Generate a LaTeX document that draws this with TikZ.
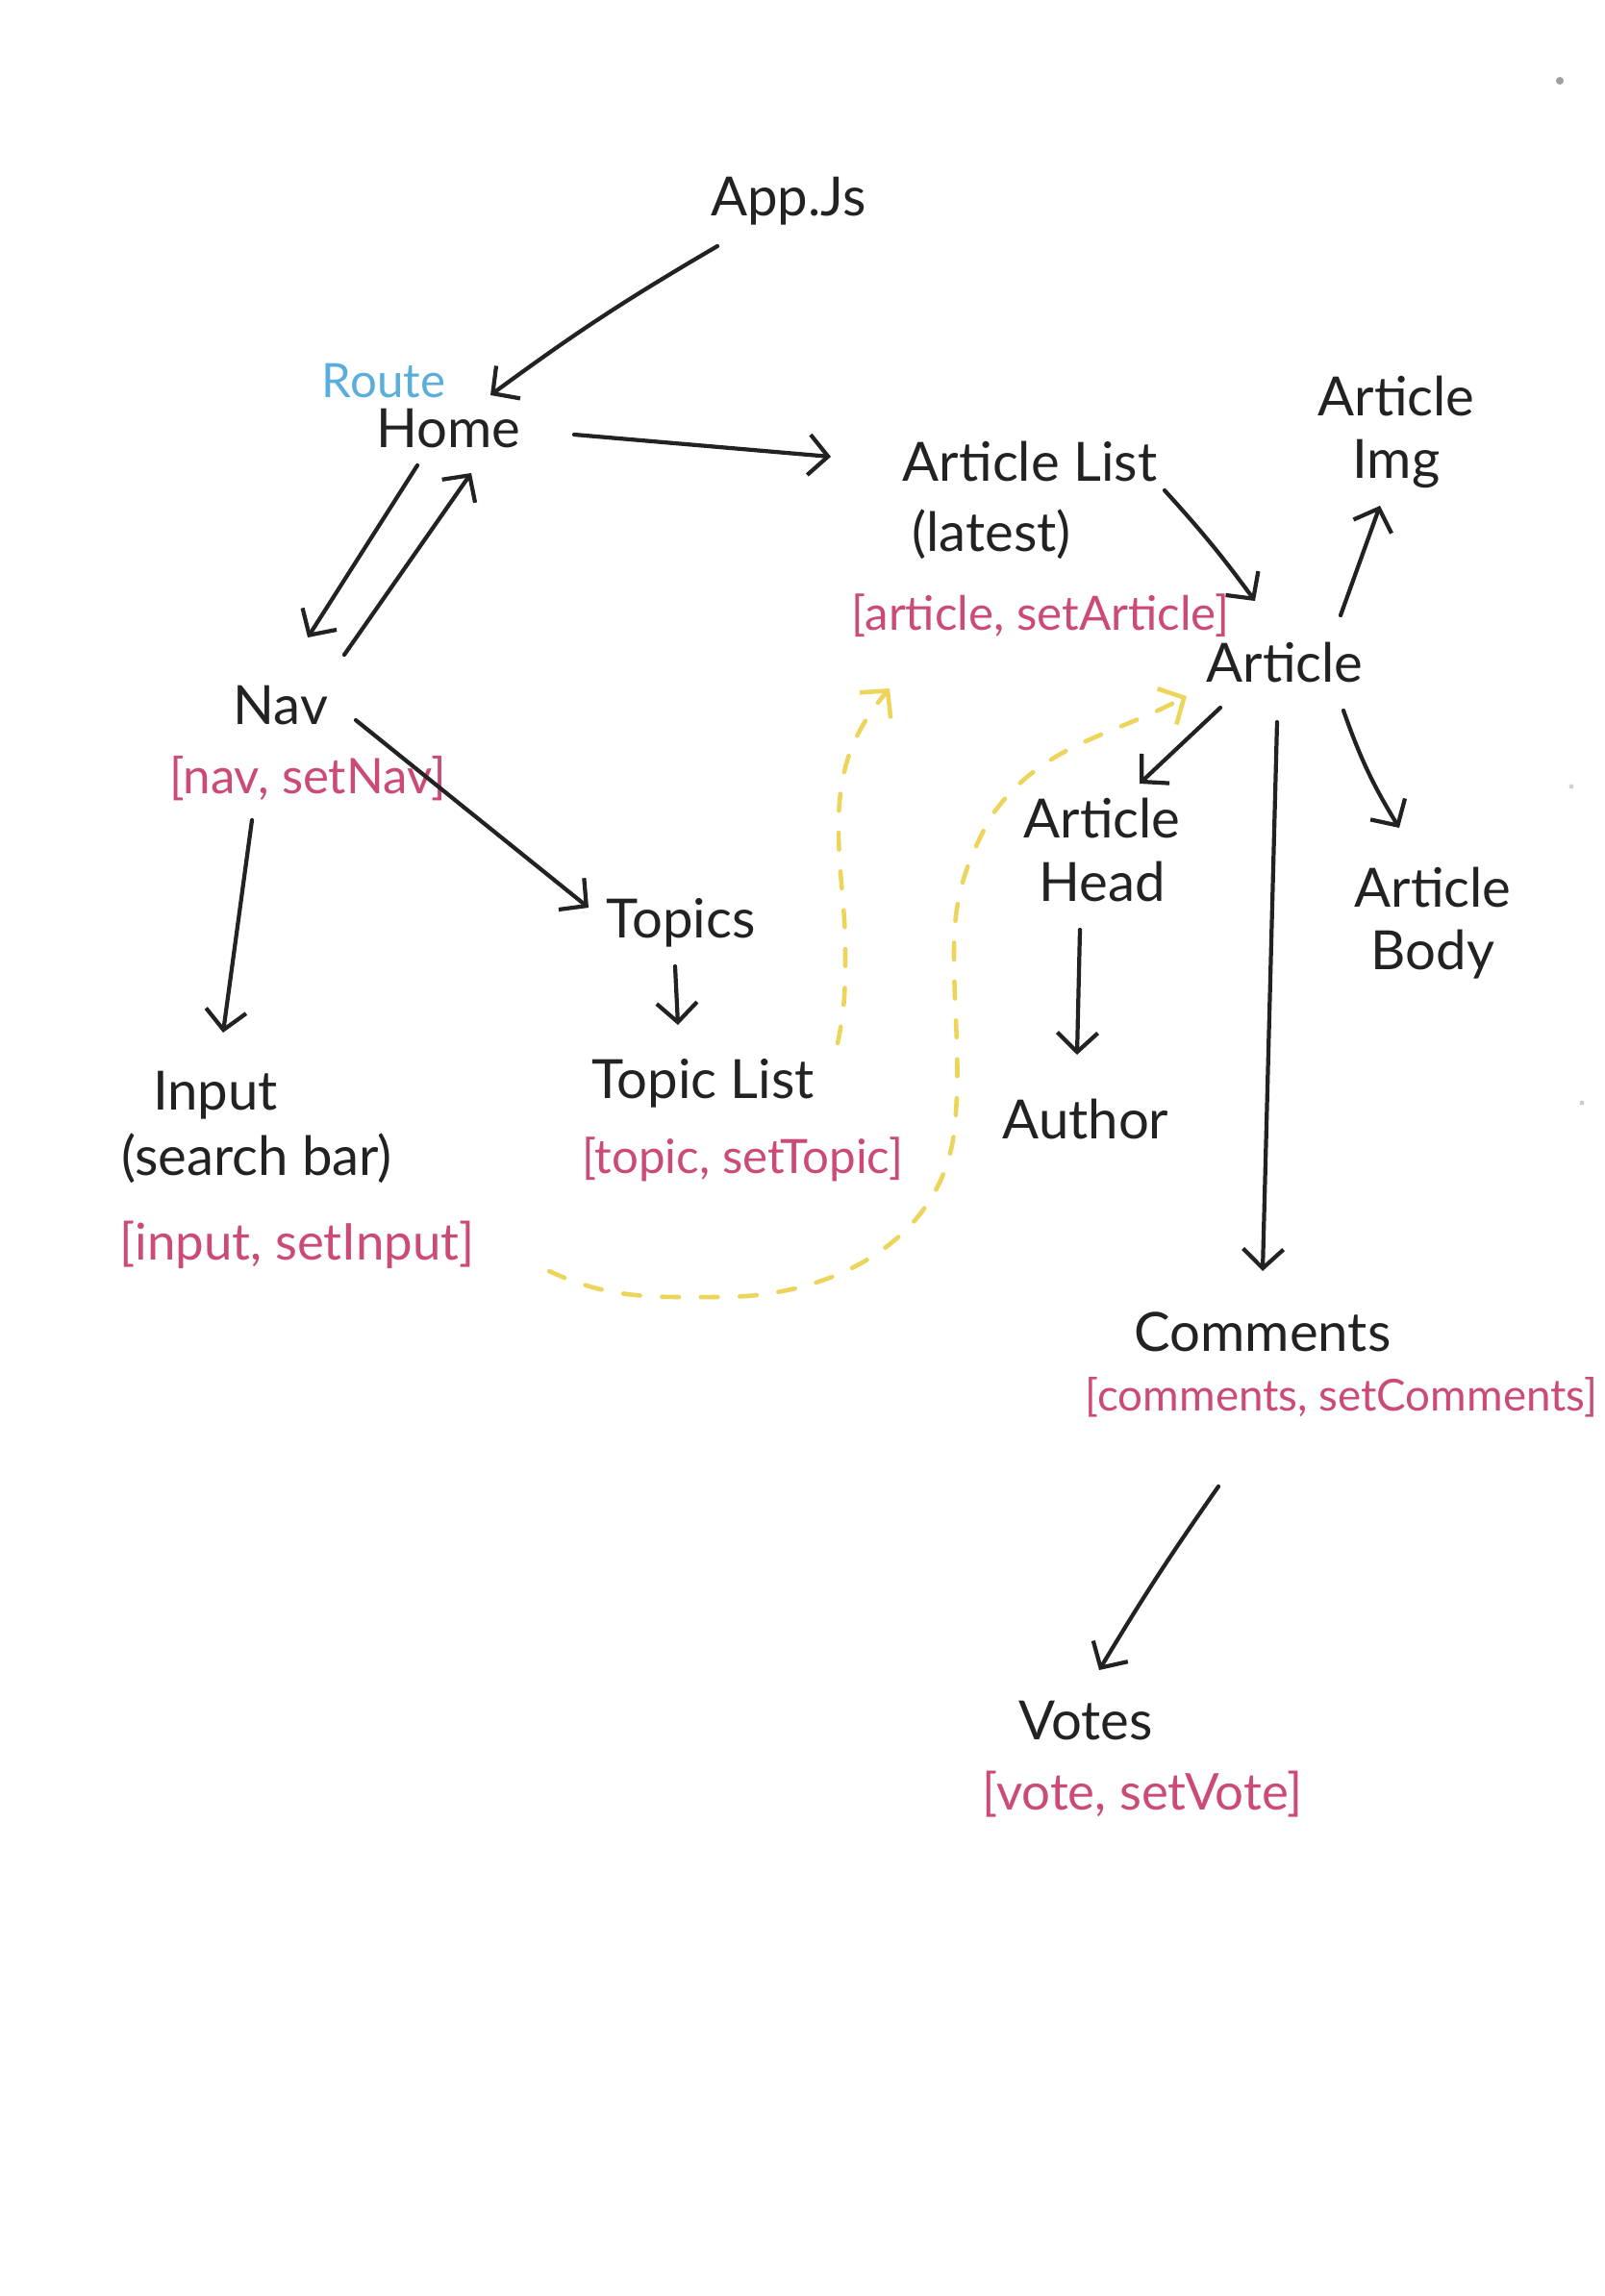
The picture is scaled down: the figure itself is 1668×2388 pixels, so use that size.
\documentclass[tikz,border=0pt]{standalone}
\usepackage{fontspec}
\setmainfont{Lato}
\usetikzlibrary{arrows.meta}
\definecolor{ink}{HTML}{222222}
\definecolor{pinkc}{HTML}{CC4A78}
\definecolor{bluec}{HTML}{5BAEDB}
\definecolor{yel}{HTML}{EDD45A}
\tikzset{
  lbl/.style={font=\fontsize{16}{18.5}\selectfont, text=ink, inner sep=0pt, align=center},
  stl/.style={font=\fontsize{14}{17}\selectfont, text=pinkc, inner sep=0pt},
  arr/.style={draw=ink, line width=1.2pt, line cap=round, -{Straight Barb[length=2mm,width=4.2mm]}},
  ydash/.style={draw=yel, line width=1.3pt, line cap=round, dash pattern=on 5pt off 6.5pt, -{Straight Barb[length=2mm,width=4.2mm]}},
}
\begin{document}
\begin{tikzpicture}[x=0.01cm,y=-0.01cm]
\fill[white] (0,0) rectangle (1668,2388);
\useasboundingbox (0,0) rectangle (1668,2388);

% nodes
\node[lbl] (app) at (820,209) {App.Js};
\node[lbl, text=bluec, font=\fontsize{14}{17}\selectfont] (route) at (399,396) {Route};
\node[lbl] (home) at (466,446) {Home};
\node[lbl] (alist) at (1071,480) {Article List};
\node[lbl] (latest) at (1031,556) {(latest)};
\node[stl] (aset) at (1082,640) {[article, setArticle]};
\node[lbl] (aimg) at (1452,449) {Article\\Img};
\node[lbl] (article) at (1336,689) {Article};
\node[lbl] (nav) at (292,734) {Nav};
\node[stl, font=\fontsize{14.5}{17}\selectfont] (navset) at (320,810) {[nav, setNav]};
\node[lbl] (topics) at (708,960) {Topics};
\node[lbl] (tlist) at (731,1127) {Topic List};
\node[stl] (tset) at (772,1206) {[topic, setTopic]};
\node[lbl] (input) at (224,1139) {Input};
\node[lbl] (search) at (267,1205) {(search bar)};
\node[stl, font=\fontsize{15}{17}\selectfont] (iset) at (309,1295) {[input, setInput]};
\node[lbl] (ahead) at (1146,884) {Article\\Head};
\node[lbl] (author) at (1129,1164) {Author};
\node[lbl] (abody) at (1490,960) {Article\\Body};
\node[lbl] (comments) at (1313,1385) {Comments};
\node[stl, font=\fontsize{13}{16}\selectfont] (cset) at (1395,1453) {[comments, setComments]};
\node[lbl] (votes) at (1129,1790) {Votes};
\node[stl, font=\fontsize{15}{17}\selectfont] (vset) at (1188,1866) {[vote, setVote]};

% connectors
\draw[arr] ([shift={(-74,47)}]app.center) to[bend right=3] ([shift={(44,-35)}]home.center);
\draw[arr] ([shift={(131,6)}]home.center) -- ([shift={(-207,-5)}]alist.center);
\draw[arr] ([shift={(-32,38)}]home.center) -- ([shift={(28,-71)}]nav.center);
\draw[arr] ([shift={(66,-53)}]nav.center) -- ([shift={(24,46)}]home.center);
\draw[arr] ([shift={(78,15)}]nav.center) -- ([shift={(-96,-16)}]topics.center);
\draw[arr] ([shift={(-30,119)}]nav.center) -- ([shift={(8,-65)}]input.center);
\draw[arr] ([shift={(-6,45)}]topics.center) -- ([shift={(-26,-61)}]tlist.center);
\draw[arr] ([shift={(140,30)}]alist.center) to[bend left=3] ([shift={(-31,-64)}]article.center);
\draw[arr] ([shift={(58,-49)}]article.center) -- ([shift={(-17,77)}]aimg.center);
\draw[arr] ([shift={(-67,47)}]article.center) -- ([shift={(39,-69)}]ahead.center);
\draw[arr] ([shift={(61,50)}]article.center) to[bend right=6] ([shift={(-35,-99)}]abody.center);
\draw[arr] ([shift={(-8,62)}]article.center) -- ([shift={(0,-63)}]comments.center);
\draw[arr] ([shift={(-23,83)}]ahead.center) -- ([shift={(-9,-67)}]author.center);
\draw[arr] ([shift={(-46,161)}]comments.center) to[bend right=2] ([shift={(14,-53)}]votes.center);

% yellow dashed connectors
\coordinate (p1a) at (879,990);
\coordinate (p1b) at (872,860);
\draw[ydash] ([shift={(140,-42)}]tlist.center) to[out=78,in=-90] (p1a) to[out=90,in=-90] (p1b) to[out=90,in=-130] ([shift={(-157,76)}]aset.center);

\coordinate (p2a) at (750,1349);
\coordinate (p2b) at (993,1170);
\coordinate (p2c) at (992,990);
\coordinate (p2d) at (1030,850);
\draw[ydash] ([shift={(262,27)}]iset.center) to[out=-25,in=180] (p2a) to[out=0,in=-95] (p2b) to[out=85,in=-90] (p2c) to[out=90,in=-118] (p2d) to[out=55,in=-152] ([shift={(-102,35)}]article.center);

% specks
\fill[gray!75] (1622,84) circle (4);
\fill[gray!35] (1634,818) circle (2.5);
\fill[gray!40] (1645,1147) circle (2.5);
\end{tikzpicture}
\end{document}
